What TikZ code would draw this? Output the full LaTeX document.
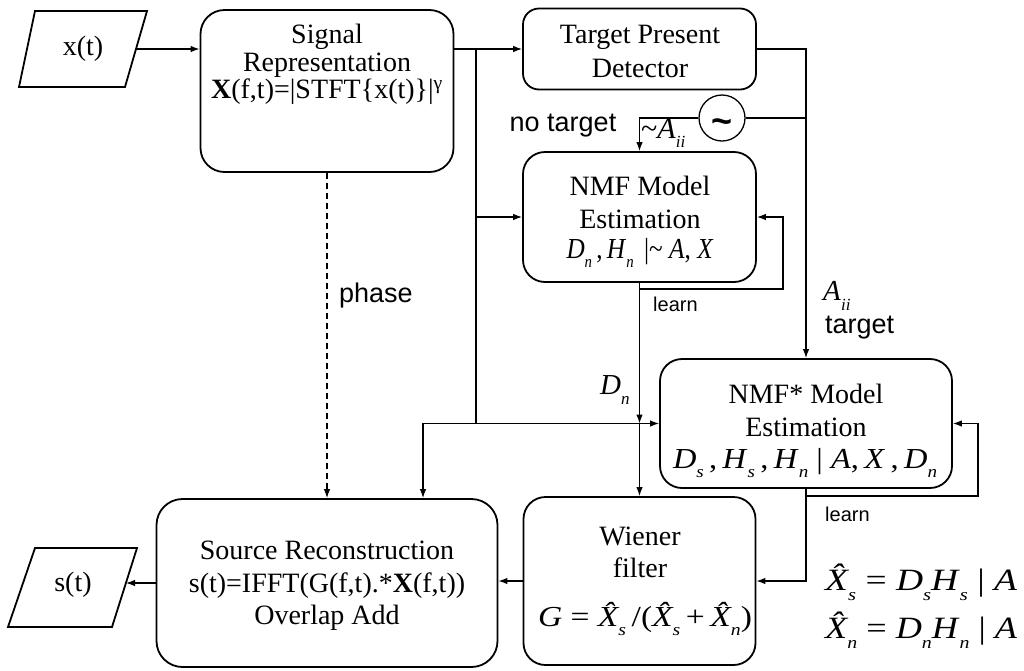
\documentclass[tikz,border=0pt]{standalone}
\usepackage{fontspec}
\usepackage{graphicx}
\setmainfont{Liberation Serif}
\newfontfamily\labelsans{Liberation Sans}
\usetikzlibrary{arrows.meta}
% italic letter, lowered italic subscript, hatted italic letter
\newcommand\iv[1]{\textit{#1}}
\newcommand\isub[1]{\raisebox{-0.32em}{\fontsize{17}{17}\selectfont\itshape #1}}
\newcommand\ihat[1]{{\itshape\^{#1}}}
% stretch a formula horizontally to a given width
\newcommand\fwidth[2]{\resizebox{#1}{\height}{#2}}

\tikzset{
  box/.style={draw, line width=1.8pt, rounded corners=22pt, inner sep=0pt},
  wire/.style={line width=1.2pt},
  conn/.style={line width=1.2pt, -{Latex[length=9pt,width=6.5pt]}},
  txt/.style={font=\fontsize{28}{33}\selectfont, align=center, inner sep=0pt},
  mathtxt/.style={font=\fontsize{29}{33}\selectfont, inner sep=0pt},
  lab/.style={font=\labelsans\fontsize{27}{30}\selectfont, inner sep=0pt},
  smalllab/.style={font=\labelsans\fontsize{20}{22}\selectfont, inner sep=0pt},
  io/.style={draw, line width=1.8pt, line join=miter},
}

\begin{document}
\begin{tikzpicture}[x=1pt, y=-1pt]
\useasboundingbox (0,0) rectangle (1024,670);

% input / output parallelograms
\draw[io] (19,87) -- (35,11) -- (147,11) -- (125,87) -- cycle;
\node[txt] (xt) at (83,49) {x(t)};
\coordinate (xtout) at (136,49);
\draw[io] (8,627) -- (35,548) -- (137,548) -- (112,627) -- cycle;
\node[txt] (st) at (73,585) {s(t)};
\coordinate (stin) at (126,583);

% processing blocks
\node[box, minimum width=253pt, minimum height=162pt, rounded corners=24pt] (sig) at (327,91) {};
\node[box, minimum width=233pt, minimum height=81pt, rounded corners=16pt] (tpd) at (639.5,49) {};
\node[box, minimum width=233pt, minimum height=130pt] (nmf) at (639.5,217) {};
\node[box, minimum width=292pt, minimum height=129pt] (nmfs) at (806,423.5) {};
\node[box, minimum width=232pt, minimum height=168pt] (wien) at (639.5,581) {};
\node[box, minimum width=341pt, minimum height=168pt, rounded corners=26pt] (src) at (327,583) {};

% block texts
\node[txt, font=\fontsize{28}{28}\selectfont] (sigT) at (327,51) {Signal\\Representation};
\node[txt] (sigF) at (327,92) {\textbf{X}(f,t)=|STFT\{x(t)\}|\textsuperscript{γ}};
\node[txt, font=\fontsize{28}{34}\selectfont] (tpdT) at (640,51) {Target Present\\Detector};
\node[txt] (nmfT) at (640,202) {NMF Model\\Estimation};
\node[mathtxt] (nmfF) at (640,253) {\fwidth{147pt}{\iv{D}\isub{n}\,,\,\iv{H}\isub{n}\, |\textasciitilde\ \iv{A}, \iv{X}}};
\node[txt] (nmfsT) at (806,410) {NMF* Model\\Estimation};
\node[mathtxt] (nmfsF) at (805,463) {\fwidth{264pt}{\iv{D}\isub{s}\,,\,\iv{H}\isub{s}\,,\,\iv{H}\isub{n}\ |\ \iv{A},\,\iv{X}\,,\,\iv{D}\isub{n}}};
\node[txt, font=\fontsize{28}{32}\selectfont] (wienT) at (640,552) {Wiener\\filter};
\node[mathtxt] (wienF) at (645,619) {\fwidth{214pt}{\iv{G} = \ihat{X}\isub{s}\,/(\ihat{X}\isub{s}\,+\,\ihat{X}\isub{n})}};
\node[txt, font=\fontsize{28}{32.5}\selectfont] (srcT) at (327,586) {Source Reconstruction\\s(t)=IFFT(G(f,t).*\textbf{X}(f,t))\\Overlap Add};

% switch
\node[draw, circle, line width=1.3pt, minimum size=46pt, inner sep=0pt] (sw) at (722,118) {};
\node[font=\labelsans\bfseries\fontsize{36}{36}\selectfont, inner sep=0pt] (swsym) at (722,126)
      {\textasciitilde};

% free labels
\node[lab] (noT) at (563,126) {no target};
\node[txt, font=\fontsize{30}{30}\selectfont, anchor=west] (notA) at (641,133) {\textasciitilde\iv{A}\isub{ii}};
\node[txt, font=\fontsize{29}{30}\selectfont, anchor=west] (Aii) at (823,296) {\iv{A}\isub{ii}};
\node[lab, anchor=west] (tgtL) at (825,328) {target};
\node[smalllab, anchor=west] (learnA) at (653,304) {learn};
\node[smalllab, anchor=west] (learnB) at (825,514) {learn};
\node[txt, font=\fontsize{29}{30}\selectfont, anchor=west] (DnL) at (600,390) {\iv{D}\isub{n}};
\node[lab, anchor=west] (phase) at (339,296) {phase};
\node[font=\fontsize{31}{48}\selectfont, align=left, anchor=west, inner sep=0pt] (eqs) at (825,606)
  {\fwidth{192pt}{\ihat{X}\isub{s} = \iv{D}\isub{s}\iv{H}\isub{s} | \iv{A}}\\
   \fwidth{192pt}{\ihat{X}\isub{n} = \iv{D}\isub{n}\iv{H}\isub{n} | \iv{A}}};

% helper points
\coordinate (br) at (476,49);
\coordinate (busL) at (423,423.5);
\coordinate (loopA) at (783,289);
\coordinate (loopB) at (978,496);

% connectors
\draw[conn] (xtout) -- (xtout -| sig.west);
\draw[conn] (tpd.west -| sig.east) -- (tpd.west);
\draw[wire] (br) -- (br |- nmfs.west);
\draw[conn] (nmf.west -| br) -- (nmf.west);
\draw[conn] (br |- nmfs.west) -- (nmfs.west);
\draw[conn] (br |- nmfs.west) -- (busL) -- (busL |- src.north);
\draw[conn] (tpd.east) -| (nmfs.north);
\draw[wire] (sw.east) -- (sw.east -| nmfs.north);
\draw[conn] (sw.west) -| (nmf.north);
\draw[conn] (nmf.south) |- (loopA) |- (nmf.east);
\draw[conn] (nmf.south) -- (nmf.south |- nmfs.west);
\draw[conn] (nmf.south |- nmfs.west) -- (wien.north);
\draw[conn] (nmfs.south) |- (loopB) |- (nmfs.east);
\draw[conn] (nmfs.south) |- (wien.east);
\draw[conn] (wien.west) -- (wien.west -| src.east);
\draw[conn] (src.west |- stin) -- (stin);
\draw[conn, dashed, dash pattern=on 6pt off 4pt] (sig.south) -- (src.north);
\end{tikzpicture}
\end{document}
